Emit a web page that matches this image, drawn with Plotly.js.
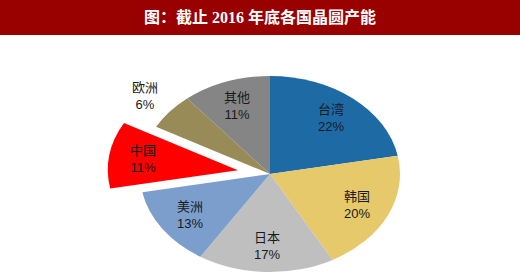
<!DOCTYPE html>
<html><head><meta charset="utf-8">
<script src="https://cdn.plot.ly/plotly-3.0.1.min.js"></script>
<style>html,body{margin:0;padding:0;background:#fff}#chart{width:520px;height:280px}</style>
</head><body><div id="chart"></div>
<script>
// Data
const regions = ['台湾', '韩国', '日本', '美洲', '中国', '欧洲', '其他'];
const shares = [22, 20, 17, 13, 11, 6, 11];
const sliceColors = ['#1d6aa5', '#e5c96a', '#bfbfbf', '#7b9ecd', '#ff0000', '#988b58', '#858585'];
const chartTitle = '图：截止 2016 年底各国晶圆产能';

// Style / layout constants
const W = 520, H = 280;
const CX = 270, CY = 174, RX = 130, RY = 98;   // ellipse of the tilted pie
const pulledRegion = '中国', PULL = 0.25;
const outsideRegions = ['欧洲'];
const INSIDE_K = 0.74, OUTSIDE_K = 1.25;

const pulls = regions.map(r => r === pulledRegion ? PULL : 0);
const total = shares.reduce((a, b) => a + b, 0);
let cum = 0;
const annotations = regions.map((r, i) => {
  const mid = (cum + shares[i] / 2) / total * 2 * Math.PI;
  cum += shares[i];
  const s = Math.sin(mid), c = Math.cos(mid);
  const k = (outsideRegions.includes(r) ? OUTSIDE_K : INSIDE_K) + pulls[i];
  const px = CX + s * RX * k, py = CY - c * RY * k;
  return {
    x: px / W, y: 1 - py / H, xref: 'paper', yref: 'paper',
    xanchor: 'center', yanchor: 'middle', showarrow: false,
    text: r + '<br>' + shares[i] + '%',
    font: {family: 'Liberation Sans, Noto Sans CJK SC, sans-serif', size: 13, color: '#1a1a1a'}
  };
});

const trace = {
  type: 'pie', labels: regions, values: shares, sort: false,
  direction: 'clockwise', rotation: 0, pull: pulls,
  marker: {colors: sliceColors, line: {width: 0}},
  textinfo: 'none', hoverinfo: 'none', showlegend: false,
  domain: {x: [0, 1], y: [0, 1]}
};

const layout = {
  width: W, height: H, margin: {l: 0, r: 0, t: 0, b: 0},
  paper_bgcolor: '#fff', plot_bgcolor: '#fff', showlegend: false,
  title: {text: chartTitle, x: 0.5, xanchor: 'center', y: 1 - 17 / H, yanchor: 'middle',
          font: {family: 'Liberation Serif, Noto Sans CJK SC, serif', size: 16, color: '#fff', weight: 'bold'}},
  shapes: [{type: 'rect', xref: 'paper', yref: 'paper', x0: 0, x1: 1, y0: 1 - 35 / H, y1: 1,
            fillcolor: '#990000', line: {width: 0}, layer: 'below'}],
  annotations: annotations
};

Plotly.newPlot('chart', [trace], layout, {staticPlot: true, displayModeBar: false}).then(gd => {
  const cd0 = (gd.calcdata && gd.calcdata[0] && gd.calcdata[0][0]) || {};
  const r = cd0.r || 112, cx = cd0.cx || 260, cy = cd0.cy || 140;
  const g = gd.querySelector('.pielayer g.trace');
  if (g) g.setAttribute('transform',
    `translate(${CX},${CY}) scale(${RX / r},${RY / r}) translate(${-cx},${-cy})`);
});
</script>
</body></html>
